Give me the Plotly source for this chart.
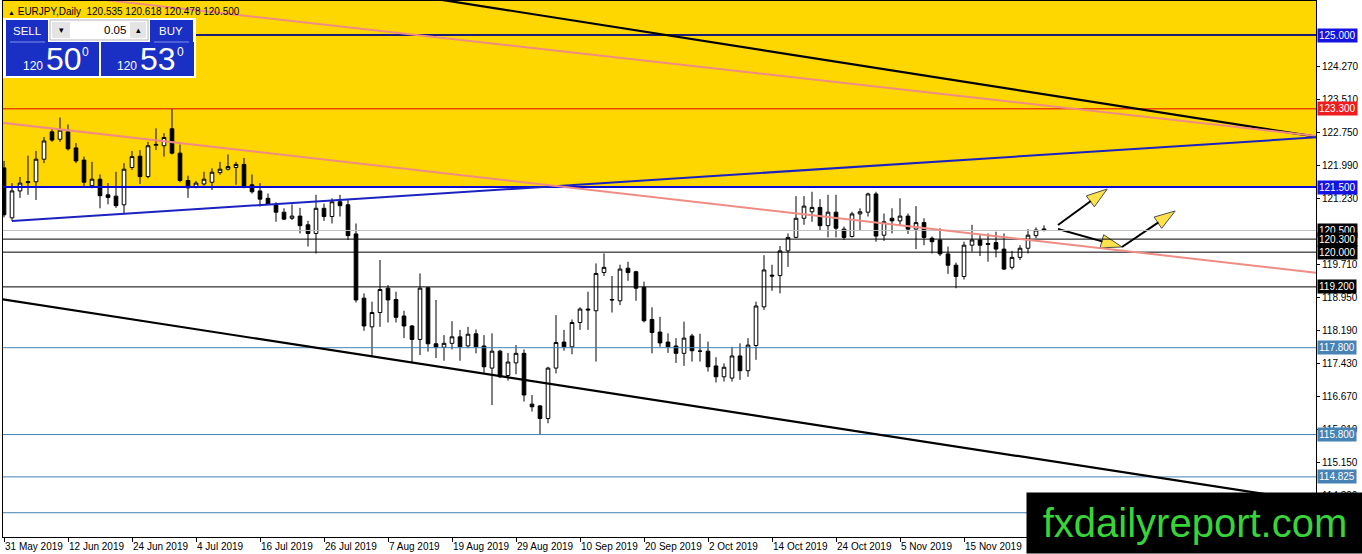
import pandas as pd
import plotly.graph_objects as go

DATES = pd.bdate_range("2019-05-31", periods=131)

OPENS = [
    121.94, 120.79, 121.41, 121.60, 121.62, 122.14, 122.77, 122.60, 122.77, 122.40,
    122.12, 121.53, 121.68, 121.32, 121.29, 121.09, 121.95, 122.21, 121.74, 122.46,
    122.45, 122.84, 122.28, 121.65, 121.51, 121.57, 121.61, 121.83, 121.91, 121.95,
    122.02, 121.55, 121.41, 121.24, 121.09, 120.92, 120.78, 120.83, 120.63, 120.43,
    121.01, 120.82, 121.16, 121.09, 120.42, 118.94, 118.28, 118.61, 119.17, 118.91,
    118.53, 118.30, 117.99, 119.18, 117.89, 117.81, 117.90, 118.05, 117.84, 118.12,
    117.84, 117.33, 117.72, 117.16, 117.45, 117.67, 116.50, 116.46, 116.17, 117.33,
    117.93, 117.82, 118.38, 118.69, 118.65, 119.53, 118.91, 118.88, 119.63, 119.55,
    119.19, 118.45, 118.16, 117.93, 117.84, 117.67, 118.07, 117.72, 117.72, 117.38,
    117.13, 117.10, 117.61, 117.27, 117.85, 118.74, 119.47, 119.46, 120.03, 120.34,
    120.78, 120.93, 121.03, 120.61, 120.92, 120.53, 120.36, 120.88, 120.92, 121.34,
    120.39, 120.78, 120.72, 120.83, 120.53, 120.68, 120.32, 120.28, 119.96, 119.70,
    119.44, 120.16, 120.28, 120.20, 120.22, 120.07, 119.65, 119.88, 120.09, 120.38,
    120.535,
]
HIGHS = [
    122.10, 121.59, 121.73, 122.22, 122.33, 122.65, 122.84, 123.10, 122.94, 122.51,
    122.20, 122.08, 121.79, 121.59, 121.85, 122.05, 122.33, 122.35, 122.54, 122.85,
    122.74, 123.30, 122.48, 121.76, 121.64, 121.85, 121.93, 122.08, 122.25, 122.08,
    122.17, 121.79, 121.59, 121.35, 121.15, 121.01, 121.10, 121.02, 120.72, 121.32,
    121.12, 121.24, 121.32, 121.20, 120.66, 119.05, 118.86, 119.82, 119.24, 119.09,
    118.65, 118.32, 119.51, 119.20, 118.90, 118.09, 118.41, 118.21, 118.28, 118.22,
    118.09, 118.13, 117.75, 117.68, 117.86, 117.76, 116.71, 116.48, 117.36, 118.55,
    118.21, 118.45, 118.73, 119.09, 119.74, 119.97, 119.45, 119.71, 119.78, 119.57,
    119.32, 118.73, 118.51, 118.13, 118.02, 118.40, 118.12, 118.12, 117.94, 117.58,
    117.44, 117.82, 117.90, 118.02, 118.86, 119.93, 119.71, 120.14, 120.43, 121.29,
    121.29, 121.39, 121.22, 121.32, 121.32, 120.59, 120.93, 121.01, 121.37, 121.39,
    120.89, 121.01, 121.24, 120.89, 121.06, 120.78, 120.36, 120.55, 120.13, 119.76,
    120.24, 120.63, 120.39, 120.43, 120.47, 120.43, 120.03, 120.16, 120.53, 120.57,
    120.618,
]
LOWS = [
    120.80, 120.72, 121.25, 121.32, 121.20, 122.05, 122.54, 122.54, 122.34, 122.05,
    121.51, 121.47, 121.01, 121.10, 121.02, 120.89, 121.89, 121.57, 121.70, 122.35,
    122.20, 122.25, 121.61, 121.25, 121.47, 121.53, 121.43, 121.78, 121.88, 121.55,
    121.47, 121.35, 121.05, 121.09, 120.70, 120.74, 120.74, 120.43, 120.13, 119.97,
    120.72, 120.66, 120.82, 120.28, 118.84, 118.19, 117.59, 118.28, 118.38, 118.38,
    118.02, 117.45, 117.63, 117.71, 117.56, 117.50, 117.76, 117.50, 117.79, 117.67,
    117.21, 116.48, 117.10, 117.04, 117.19, 116.56, 116.33, 115.79, 116.06, 117.21,
    117.73, 117.65, 118.21, 118.21, 117.48, 119.45, 118.61, 118.78, 119.34, 118.88,
    118.38, 117.67, 117.82, 117.68, 117.45, 117.38, 117.48, 117.48, 117.25, 117.00,
    117.02, 117.02, 117.06, 117.13, 117.52, 118.67, 119.11, 119.05, 119.66, 120.32,
    120.63, 120.70, 120.49, 120.34, 120.34, 120.28, 120.34, 120.51, 120.82, 120.24,
    120.26, 120.43, 120.63, 120.42, 120.07, 120.16, 119.97, 119.91, 119.50, 119.17,
    119.37, 120.01, 119.91, 119.78, 119.88, 119.59, 119.60, 119.82, 119.97, 120.32,
    120.478,
]
CLOSES = [
    120.86, 121.41, 121.59, 121.62, 122.14, 122.56, 122.58, 122.81, 122.38, 122.10,
    121.61, 121.68, 121.30, 121.26, 121.07, 121.91, 122.20, 121.74, 122.45, 122.48,
    122.64, 122.28, 121.65, 121.48, 121.59, 121.68, 121.84, 121.91, 121.97, 122.02,
    121.53, 121.39, 121.22, 121.10, 120.92, 120.76, 120.83, 120.61, 120.43, 121.01,
    120.82, 121.16, 121.07, 120.38, 118.90, 118.30, 118.61, 119.14, 118.90, 118.50,
    118.30, 117.99, 119.17, 117.89, 117.81, 117.90, 118.05, 117.82, 118.11, 117.82,
    117.36, 117.72, 117.13, 117.47, 117.67, 116.71, 116.44, 116.17, 117.33, 117.92,
    117.82, 118.38, 118.69, 118.67, 119.51, 119.65, 118.90, 119.61, 119.53, 119.17,
    118.42, 118.15, 117.91, 117.82, 117.67, 118.02, 117.73, 117.72, 117.36, 117.13,
    117.35, 117.61, 117.27, 117.86, 118.76, 119.59, 119.45, 120.03, 120.34, 120.78,
    121.06, 121.03, 120.61, 120.92, 120.55, 120.34, 120.88, 120.93, 121.34, 120.37,
    120.70, 120.72, 120.83, 120.53, 120.68, 120.34, 120.24, 119.96, 119.70, 119.44,
    120.16, 120.28, 120.16, 120.18, 120.07, 119.61, 119.88, 120.09, 120.39, 120.51,
    120.500,
]

# axis ticks that are not hidden under a level label
TICK_PRICES = [114.39, 115.15, 115.91, 116.67, 117.43, 118.19, 118.95,
               119.71, 121.23, 121.99, 122.75, 123.51, 124.27]

# horizontal levels: price, line colour, line width, label colour
HLINES = [
    (125.000, "#1e1a78", 2, "#1414e0"),
    (123.300, "#e00000", 1, "#ee1c1c"),
    (121.500, "#0a0ad0", 2, "#1414e0"),
    (120.500, "#c0c0c0", 1, "#000000"),
    (120.300, "#000000", 1, "#000000"),
    (120.000, "#000000", 1, "#000000"),
    (119.200, "#000000", 1, "#000000"),
    (117.800, "#4682b4", 1, "#4682b4"),
    (115.800, "#4682b4", 1, "#4682b4"),
    (114.825, "#4682b4", 1, "#4682b4"),
    (114.000, "#4682b4", 1, None),
]

# trendlines: bar index / price at both ends
TRENDLINES = [
    (40.0, 126.233, 164.0, 122.658, "#000000", 2.2),
    (5.0, 125.965, 164.0, 122.674, "#f08c84", 2),
    (1.0, 120.717, 164.0, 122.644, "#1c22c0", 2),
    (-1.0, 122.995, 164.0, 119.525, "#f08c84", 2),
    (-0.5, 118.921, 164.0, 114.247, "#000000", 2.2),
]

ARROWS = [
    ([131.75, 137.9], [120.625, 121.454]),
    ([131.75, 139.75], [120.533, 120.119]),
    ([139.75, 146.4], [120.119, 120.948]),
]

FONT = "Liberation Sans, Arial, sans-serif"

# plot area in screen pixels, used for the panel / watermark overlays
PLOT_L, PLOT_R, PLOT_T, PLOT_B = 3, 1316, 1, 537


def px_x(px):
    return (px - PLOT_L) / (PLOT_R - PLOT_L)


def px_y(py):
    return (PLOT_B - py) / (PLOT_B - PLOT_T)


def rect(x0, y0, x1, y1, fill, line=None):
    return dict(type="rect", xref="paper", yref="paper",
                x0=px_x(x0), x1=px_x(x1), y0=px_y(y1), y1=px_y(y0),
                fillcolor=fill, line=dict(width=1 if line else 0, color=line or fill),
                layer="above")


def label(x, y, text, size, color="white", anchor="center"):
    return dict(xref="paper", yref="paper", x=px_x(x), y=px_y(y), text=text,
                showarrow=False, xanchor=anchor, yanchor="middle",
                font=dict(family=FONT, size=size, color=color))


bars = list(range(len(DATES)))

fig = go.Figure()
fig.add_trace(go.Candlestick(
    x=bars, open=OPENS, high=HIGHS, low=LOWS, close=CLOSES,
    increasing=dict(line=dict(color="black", width=1), fillcolor="white"),
    decreasing=dict(line=dict(color="black", width=1), fillcolor="black"),
    whiskerwidth=0, hoverinfo="skip",
))

for xs, ys in ARROWS:
    fig.add_trace(go.Scatter(
        x=xs, y=ys, mode="lines+markers", hoverinfo="skip",
        line=dict(color="black", width=2),
        marker=dict(symbol="arrow", size=[0, 22], angleref="previous",
                    color="#ffd700", line=dict(color="black", width=1)),
    ))

shapes = []
# yellow zone above 121.5
shapes.append(dict(type="rect", xref="paper", yref="y", x0=0, x1=1, y0=121.5, y1=127,
                   fillcolor="#ffd700", line=dict(width=0), layer="below"))

for price, color, width, _ in HLINES:
    shapes.append(dict(type="line", xref="paper", yref="y", x0=0, x1=1, y0=price, y1=price,
                       line=dict(color=color, width=width), layer="above"))

for i0, p0, i1, p1, color, width in TRENDLINES:
    shapes.append(dict(type="line", xref="x", yref="y", x0=i0, y0=p0, x1=i1, y1=p1,
                       line=dict(color=color, width=width), layer="above"))

# one click trading panel
shapes += [
    rect(3, 18, 196, 78, "white"),
    rect(6, 20, 48, 42, "#1a30c4"),
    rect(6, 42, 99, 76, "#1a30c4"),
    rect(150, 20, 193, 42, "#1a30c4"),
    rect(101, 42, 194, 76, "#1a30c4"),
    rect(50, 20, 148, 40, "white", "#b4b4b4"),
    rect(52, 22, 70, 38, "#e4e4e4"),
    rect(130, 22, 146, 38, "#e4e4e4"),
    dict(type="line", xref="paper", yref="paper", x0=px_x(10), x1=px_x(45),
         y0=px_y(42), y1=px_y(42), line=dict(color="#8090e8", width=1), layer="above"),
    dict(type="line", xref="paper", yref="paper", x0=px_x(154), x1=px_x(189),
         y0=px_y(42), y1=px_y(42), line=dict(color="#8090e8", width=1), layer="above"),
]

annotations = [
    dict(xref="paper", yref="paper", x=px_x(6), y=px_y(11), xanchor="left", yanchor="middle",
         showarrow=False, font=dict(family=FONT, size=10, color="black"),
         text="<span style='font-size:7px'>▲</span> EURJPY,Daily  120.535 120.618 120.478 120.500"),
    label(27, 31, "SELL", 11.5),
    label(61, 30, "▾", 9, "black"),
    label(128, 30, "0.05", 11.5, "black", "right"),
    label(138, 30, "▴", 9, "black"),
    label(171, 31, "BUY", 11.5),
    label(33, 66, "120", 12),
    label(64, 59, "50", 32),
    label(85, 52, "0", 12),
    label(127, 66, "120", 12),
    label(158, 59, "53", 32),
    label(180, 52, "0", 12),
]

# price labels on the right axis
for price, _, _, bg in HLINES:
    if bg is None:
        continue
    annotations.append(dict(
        xref="paper", yref="y", x=1, y=price, xanchor="left", yanchor="middle", xshift=1,
        text=f"{price:.3f}", showarrow=False, bgcolor=bg, borderpad=1,
        font=dict(family=FONT, size=10, color="white"),
    ))

# watermark box, bottom right
annotations.append(dict(
    xref="paper", yref="paper", x=px_x(1026), y=px_y(554), xanchor="left", yanchor="bottom",
    width=336, height=60, bgcolor="black", borderpad=0, showarrow=False,
    text="fxdailyreport.com", font=dict(family=FONT, size=40, color="#38d438"),
))

tick_bars = bars[::8][:-1]  # last label sits under the watermark
tick_text = [f"{DATES[i].day} {DATES[i].strftime('%b %Y')}" for i in tick_bars]

fig.update_layout(
    width=1362, height=554,
    margin=dict(l=PLOT_L, r=1362 - PLOT_R, t=PLOT_T, b=554 - PLOT_B, pad=0),
    paper_bgcolor="white", plot_bgcolor="white",
    showlegend=False,
    font=dict(family=FONT, size=10, color="black"),
    shapes=shapes,
    annotations=annotations,
    xaxis=dict(
        range=[-0.125, 164], rangeslider=dict(visible=False), automargin=False,
        tickvals=tick_bars, ticktext=tick_text, ticklabelposition="outside right",
        tickangle=0, ticks="outside", ticklen=4, tickcolor="black",
        showgrid=False, zeroline=False, showline=True, linecolor="black", mirror=True,
        tickfont=dict(size=10, color="black"),
    ),
    yaxis=dict(
        side="right", range=[113.441, 125.783], automargin=False,
        tickvals=TICK_PRICES, ticktext=[f"{p:.3f}" for p in TICK_PRICES],
        ticks="outside", ticklen=3, tickcolor="black",
        showgrid=False, zeroline=False, showline=True, linecolor="black", mirror=True,
        tickfont=dict(size=10, color="black"),
    ),
    boxgap=0.35,
)

fig.write_html("out.html", config={"displayModeBar": False},
               post_script="document.body.style.margin='0px';")
